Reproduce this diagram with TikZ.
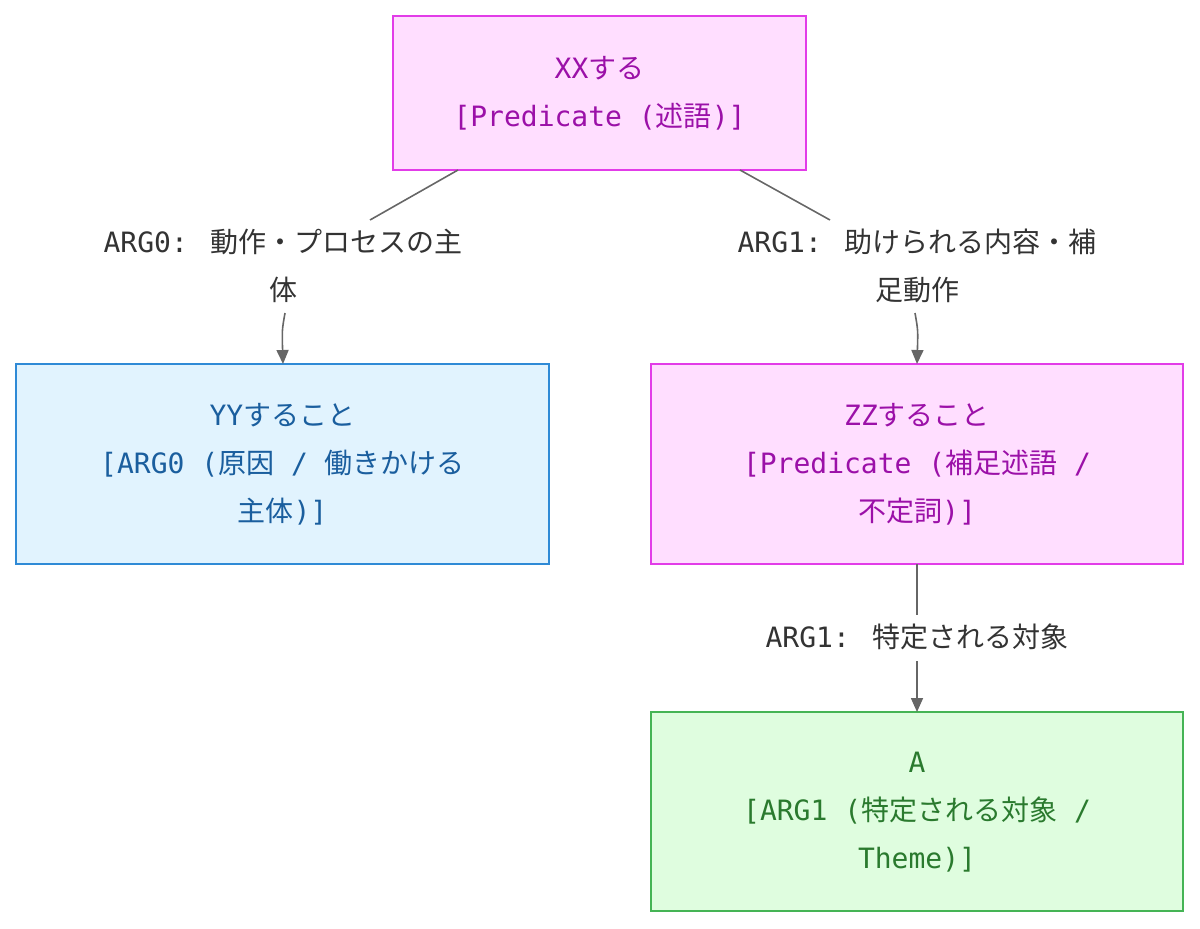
\documentclass[tikz,border=0pt]{standalone}
\usepackage{fontspec}
\setmainfont{Noto Sans CJK JP}
\newfontfamily\lt{DejaVu Sans Mono}
\newcommand{\m}[1]{{\lt #1}}
\usetikzlibrary{arrows.meta}
\definecolor{pfill}{HTML}{FFDEFF}\definecolor{pdraw}{HTML}{E23CE8}\definecolor{ptext}{HTML}{9B10A8}
\definecolor{bfill}{HTML}{E1F3FE}\definecolor{bdraw}{HTML}{2F8AD6}\definecolor{btext}{HTML}{1A5E9E}
\definecolor{gfill}{HTML}{DFFDDF}\definecolor{gdraw}{HTML}{45B455}\definecolor{gtext}{HTML}{2A7A2E}
\definecolor{etext}{HTML}{333333}\definecolor{eline}{HTML}{666666}
\begin{document}
\begin{tikzpicture}[x=1pt,y=-1pt,
  box/.style={draw,line width=1.5pt},
  pbox/.style={box,fill=pfill,draw=pdraw},
  bbox/.style={box,fill=bfill,draw=bdraw},
  gbox/.style={box,fill=gfill,draw=gdraw},
  lab/.style={align=center,text=etext,font=\fontsize{28}{48}\selectfont,inner sep=0pt},
  edge/.style={draw=eline,line width=1.6pt},
  arr/.style={edge,-{Triangle[length=14pt,width=12pt]}}]
\useasboundingbox (0,0) rectangle (1200,929);
\path[pbox] (393,16) rectangle (806,170);
\node[lab,text=ptext] (xx) at (599.5,93) {\m{XX}する\\\m{[Predicate (}述語\m{)]}};
\path[bbox] (16,364) rectangle (549,564);
\node[lab,text=btext] (yy) at (282.5,464) {\m{YY}すること\\\m{[ARG0 (}原因\m{ / }働きかける\\主体\m{)]}};
\path[pbox] (651,364) rectangle (1183,564);
\node[lab,text=ptext] (zz) at (917,464) {\m{ZZ}すること\\\m{[Predicate (}補足述語\m{ /}\\不定詞\m{)]}};
\path[gbox] (651,712) rectangle (1183,911);
\node[lab,text=gtext] (a) at (917,812) {\m{A}\\\m{[ARG1 (}特定される対象\m{ /}\\\m{Theme)]}};
\node[lab] (l1) at (283,266) {\m{ARG0: }動作・プロセスの主\\体};
\node[lab] (l2) at (917,266) {\m{ARG1: }助けられる内容・補\\足動作};
\node[lab] (l3) at (917,637) {\m{ARG1: }特定される対象};
\coordinate (c1) at (458,170); \coordinate (c1b) at (370,220);
\coordinate (c2) at (740,170); \coordinate (c2b) at (830,220);
\coordinate (t1) at (285,313); \coordinate (e1) at (283,364);
\coordinate (t2) at (915,313); \coordinate (e2) at (917,364);
\coordinate (s3) at (917,564); \coordinate (s3b) at (917,615);
\coordinate (t3) at (917,661); \coordinate (e3) at (917,712);
\draw[edge] (c1) -- (c1b);
\draw[edge] (c2) -- (c2b);
\draw[arr] (t1) .. controls (282,330) .. (e1);
\draw[arr] (t2) .. controls (918,330) .. (e2);
\draw[edge] (s3) -- (s3b);
\draw[arr] (t3) -- (e3);
\end{tikzpicture}
\end{document}
